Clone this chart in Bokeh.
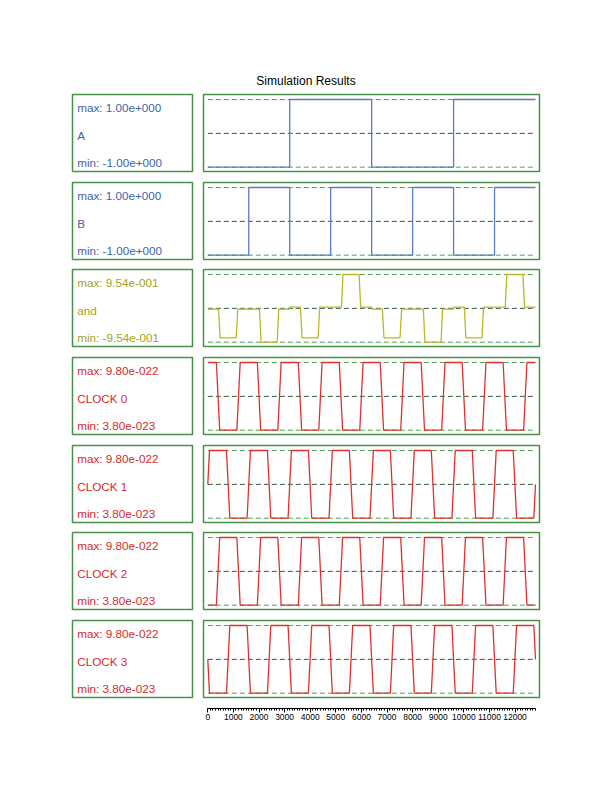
from bokeh.plotting import figure
from bokeh.layouts import column, row
from bokeh.models import Range1d, Spacer, FixedTicker
from bokeh.embed import file_html
from bokeh.resources import INLINE
from bokeh.core.properties import value

# ---------------- data ----------------
TITLE = "Simulation Results"
NAMES = ["A", "B", "and", "CLOCK 0", "CLOCK 1", "CLOCK 2", "CLOCK 3"]
MAX_LABELS = ["max: 1.00e+000", "max: 1.00e+000", "max: 9.54e-001",
              "max: 9.80e-022", "max: 9.80e-022", "max: 9.80e-022", "max: 9.80e-022"]
MIN_LABELS = ["min: -1.00e+000", "min: -1.00e+000", "min: -9.54e-001",
              "min: 3.80e-023", "min: 3.80e-023", "min: 3.80e-023", "min: 3.80e-023"]
SIG_MAX = [1.0, 1.0, 0.954, 9.8e-22, 9.8e-22, 9.8e-22, 9.8e-22]
SIG_MIN = [-1.0, -1.0, -0.954, 3.8e-23, 3.8e-23, 3.8e-23, 3.8e-23]

X_TICKS = [0, 1000, 2000, 3000, 4000, 5000, 6000, 7000, 8000, 9000, 10000, 11000, 12000]
T_END = 12800

A_T = [0, 3200, 3200, 6400, 6400, 9600, 9600, 12800]
A_V = [-1, -1, 1, 1, -1, -1, 1, 1]

B_T = [0, 1600, 1600, 3200, 3200, 4800, 4800, 6400, 6400, 8000, 8000, 9600, 9600, 11200, 11200, 12800]
B_V = [-1, -1, 1, 1, -1, -1, 1, 1, -1, -1, 1, 1, -1, -1, 1, 1]

AND_T = [0, 420, 480, 1110, 1170, 2020, 2080, 2710, 2770, 3200, 3200, 3620, 3680, 4310, 4370,
         5220, 5280, 5910, 5970, 6400, 6400, 6820, 6880, 7510, 7570, 8420, 8480, 9110, 9170,
         9600, 9600, 10020, 10080, 10710, 10770, 11620, 11680, 12310, 12370, 12800]
AND_V = [-0.02, -0.02, -0.83, -0.83, -0.02, -0.02, -0.954, -0.954, -0.02, -0.02, 0.035, 0.035,
         -0.83, -0.83, 0.035, 0.035, 0.954, 0.954, 0.035, 0.035, -0.02, -0.02, -0.83, -0.83,
         -0.02, -0.02, -0.954, -0.954, -0.02, -0.02, 0.035, 0.035, -0.83, -0.83, 0.035, 0.035,
         0.954, 0.954, 0.035, 0.035]

HI = 9.8e-22
LO = 3.8e-23
MID = 5.09e-22

CLK0_T = [0, 335, 465, 1135, 1265, 1935, 2065, 2735, 2865, 3535, 3665, 4335, 4465, 5135, 5265,
          5935, 6065, 6735, 6865, 7535, 7665, 8335, 8465, 9135, 9265, 9935, 10065, 10735, 10865,
          11535, 11665, 12335, 12465, 12800]
CLK0_V = [HI, HI, LO, LO, HI, HI, LO, LO, HI, HI, LO, LO, HI, HI, LO, LO, HI,
          HI, LO, LO, HI, HI, LO, LO, HI, HI, LO, LO, HI, HI, LO, LO, HI, HI]

CLK1_T = [0, 65, 730, 860, 1535, 1665, 2330, 2460, 3135, 3265, 3930, 4060, 4735, 4865, 5530,
          5660, 6335, 6465, 7130, 7260, 7935, 8065, 8730, 8860, 9535, 9665, 10330, 10460,
          11135, 11265, 11930, 12060, 12735, 12800]
CLK1_V = [MID, HI, HI, LO, LO, HI, HI, LO, LO, HI, HI, LO, LO, HI, HI, LO, LO,
          HI, HI, LO, LO, HI, HI, LO, LO, HI, HI, LO, LO, HI, HI, LO, LO, MID]

CLK2_T = CLK0_T
CLK2_V = [LO, LO, HI, HI, LO, LO, HI, HI, LO, LO, HI, HI, LO, LO, HI, HI, LO,
          LO, HI, HI, LO, LO, HI, HI, LO, LO, HI, HI, LO, LO, HI, HI, LO, LO]

CLK3_T = CLK1_T
CLK3_V = [MID, LO, LO, HI, HI, LO, LO, HI, HI, LO, LO, HI, HI, LO, LO, HI, HI,
          LO, LO, HI, HI, LO, LO, HI, HI, LO, LO, HI, HI, LO, LO, HI, HI, MID]

SERIES_T = [A_T, B_T, AND_T, CLK0_T, CLK1_T, CLK2_T, CLK3_T]
SERIES_V = [A_V, B_V, AND_V, CLK0_V, CLK1_V, CLK2_V, CLK3_V]

# ---------------- styles ----------------
FONT = "Liberation Sans"
BOX_GREEN = "#4a8f4a"
DASH_OUTER = "#55a055"
DASH_MID = "#2d5a3a"
BLUE_TXT, BLUE_LINE = "#3f63a8", "#5b7bc0"
YEL_TXT, YEL_LINE = "#a3a316", "#b8b828"
RED_TXT, RED_LINE = "#d42a2a", "#e03030"
TEXT_COLORS = [BLUE_TXT, BLUE_TXT, YEL_TXT, RED_TXT, RED_TXT, RED_TXT, RED_TXT]
LINE_COLORS = [BLUE_LINE, BLUE_LINE, YEL_LINE, RED_LINE, RED_LINE, RED_LINE, RED_LINE]

LABEL_W, SIG_W, ROW_H = 124, 340, 81
X_LO, X_HI = -168, 12956
PAD_TOP, PAD_BOT = 5.0 / 67.7, 4.3 / 67.7
ROW_GAPS = [7, 6, 7, 7, 6, 7]


def base_fig(width, height, xr, yr, outline=True):
    p = figure(width=width, height=height, min_border=2, x_range=xr, y_range=yr,
               x_axis_type=None, y_axis_type=None, toolbar_location=None,
               output_backend="svg")
    p.outline_line_color = BOX_GREEN if outline else None
    p.outline_line_width = 1.5
    p.background_fill_color = "white"
    p.border_fill_color = "white"
    return p


def label_fig(i):
    p = base_fig(LABEL_W, ROW_H, Range1d(0, 120), Range1d(0, 77))
    p.text(x=[4.7, 4.7, 4.7], y=[64.5, 36.5, 9.0],
           text=[MAX_LABELS[i], NAMES[i], MIN_LABELS[i]],
           text_align="left", text_baseline="middle", text_color=TEXT_COLORS[i],
           text_font=value(FONT), text_font_size="11.7px")
    return p


def signal_fig(i):
    hi, lo = SIG_MAX[i], SIG_MIN[i]
    span = hi - lo
    p = base_fig(SIG_W, ROW_H, Range1d(X_LO, X_HI),
                 Range1d(lo - PAD_BOT * span, hi + PAD_TOP * span))
    t = SERIES_T[i]
    t0, t1 = t[0], t[-1]
    mid = (hi + lo) / 2
    p.line([t0, t1], [hi, hi], line_color=DASH_OUTER, line_width=1, line_dash="5 3")
    p.line([t0, t1], [lo, lo], line_color=DASH_OUTER, line_width=1, line_dash="5 3")
    p.line([t0, t1], [mid, mid], line_color=DASH_MID, line_width=1, line_dash="5 3")
    p.line(t, SERIES_V[i], line_color=LINE_COLORS[i], line_width=1.3)
    return p


# title
tp = figure(width=471, height=24, min_border=0, x_range=Range1d(0, 1), y_range=Range1d(0, 1),
            x_axis_type=None, y_axis_type=None, toolbar_location=None, output_backend="svg")
tp.outline_line_color = None
tp.text(x=[0.5], y=[0.5], text=[TITLE], text_align="center", text_baseline="middle",
        text_color="black", text_font=value(FONT), text_font_size="12px")

children = [Spacer(height=68), row(Spacer(width=70), tp)]
for i in range(len(NAMES)):
    if i > 0:
        children.append(Spacer(height=ROW_GAPS[i - 1]))
    children.append(row(Spacer(width=70), label_fig(i), Spacer(width=7), signal_fig(i)))

# time axis
ap = figure(frame_width=336, frame_height=9, min_border_left=2, min_border_right=2,
            min_border_top=0, x_range=Range1d(X_LO, X_HI), y_range=Range1d(0, 1),
            y_axis_type=None, toolbar_location=None, output_backend="svg")
ap.outline_line_color = None
ap.grid.visible = False
ax = ap.xaxis[0]
ax.ticker = FixedTicker(ticks=X_TICKS, minor_ticks=list(range(0, T_END + 1, 100)))
ax.bounds = (0, T_END)
ax.axis_line_color = "black"
ax.axis_line_width = 1
ax.major_tick_in = 0
ax.major_tick_out = 4
ax.minor_tick_in = 0
ax.minor_tick_out = 2
ax.major_label_standoff = 1
ax.major_label_text_font = FONT
ax.major_label_text_font_size = "8.5px"
ax.major_label_text_color = "black"
children.append(row(Spacer(width=201), ap))

layout = column(*children)
open("out.html", "w").write(file_html(layout, INLINE))
